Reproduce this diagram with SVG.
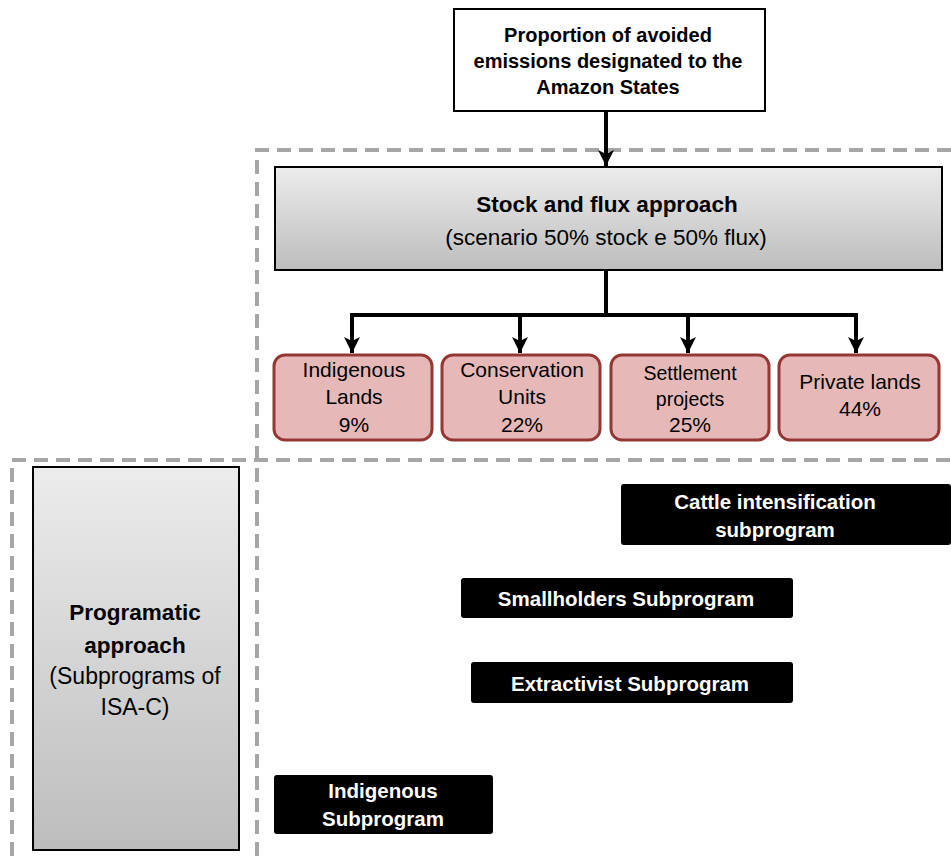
<svg xmlns="http://www.w3.org/2000/svg" width="951" height="856" viewBox="0 0 951 856">
  <defs>
    <linearGradient id="greyFill" x1="0" y1="0" x2="0" y2="1">
      <stop offset="0" stop-color="#ececec"/>
      <stop offset="1" stop-color="#bdbdbd"/>
    </linearGradient>
    <marker id="head" markerUnits="userSpaceOnUse" markerWidth="18" markerHeight="18" refX="16" refY="9" orient="auto" viewBox="0 0 18 18">
      <path d="M0,1 L16,9 L0,17 L4,9 Z" fill="#000"/>
    </marker>
  </defs>
  <style>
    text { font-family: "Liberation Sans", "Noto Sans", Arial, sans-serif; text-anchor: middle; dominant-baseline: central; }
    .b { font-weight: bold; }
    .frame { fill: none; stroke: #a6a6a6; stroke-width: 4; stroke-dasharray: 14 8; }
    .grey { fill: url(#greyFill); stroke: #000; stroke-width: 2; }
    .pink { fill: #e6b9b8; stroke: #953735; stroke-width: 3; }
    .dark { fill: #000; }
    .wt { fill: #fff; font-weight: bold; font-size: 20.5px; }
    .pt { font-size: 21px; }
    .link { fill: none; stroke: #000; stroke-width: 4; }
  </style>

  <rect width="951" height="856" fill="#fff"/>

  <!-- dashed frames -->
  <g id="frames">
    <path class="frame" d="M257,856 V150 H951"/>
    <path class="frame" d="M12,856 V460 H951"/>
  </g>

  <!-- connectors -->
  <g id="connectors">
    <path class="link" d="M606,111 V166" marker-end="url(#head)"/>
    <path class="link" d="M606,270 V315 M352,315 H856"/>
    <path class="link" d="M352,313 V353" marker-end="url(#head)"/>
    <path class="link" d="M520,313 V353" marker-end="url(#head)"/>
    <path class="link" d="M688,313 V353" marker-end="url(#head)"/>
    <path class="link" d="M856,313 V353" marker-end="url(#head)"/>
  </g>

  <g id="proportion">
    <rect x="454" y="9" width="311" height="102" fill="#fff" stroke="#000" stroke-width="2"/>
    <text class="b" x="608" y="35" font-size="20">Proportion of avoided</text>
    <text class="b" x="608" y="61" font-size="20">emissions designated to the</text>
    <text class="b" x="608" y="87" font-size="20">Amazon States</text>
  </g>

  <g id="stockflux">
    <rect class="grey" x="275" y="167" width="667" height="103"/>
    <text class="b" x="607" y="204" font-size="22.5">Stock and flux approach</text>
    <text x="606" y="237" font-size="22.5">(scenario 50% stock e 50% flux)</text>
  </g>

  <g id="indigenous-lands">
    <rect class="pink" x="274" y="355" width="158" height="85" rx="11"/>
    <text class="pt" x="354" y="369">Indigenous</text>
    <text class="pt" x="354" y="396">Lands</text>
    <text class="pt" x="354" y="424">9%</text>
  </g>

  <g id="conservation-units">
    <rect class="pink" x="442" y="355" width="158" height="85" rx="11"/>
    <text class="pt" x="522" y="369">Conservation</text>
    <text class="pt" x="522" y="396">Units</text>
    <text class="pt" x="522" y="424">22%</text>
  </g>

  <g id="settlement-projects">
    <rect class="pink" x="611" y="355" width="158" height="85" rx="11"/>
    <text x="690" y="373" font-size="19.5">Settlement</text>
    <text x="690" y="399" font-size="19.5">projects</text>
    <text class="pt" x="690" y="424">25%</text>
  </g>

  <g id="private-lands">
    <rect class="pink" x="779" y="355" width="160" height="85" rx="11"/>
    <text class="pt" x="860" y="381">Private lands</text>
    <text class="pt" x="860" y="408">44%</text>
  </g>

  <g id="programatic">
    <rect class="grey" x="33" y="467" width="206" height="383"/>
    <text class="b" x="135" y="612" font-size="22.5">Programatic</text>
    <text class="b" x="135" y="645" font-size="22.5">approach</text>
    <text x="135" y="676" font-size="23">(Subprograms of</text>
    <text x="135" y="707" font-size="23">ISA-C)</text>
  </g>

  <g id="cattle">
    <rect class="dark" x="621" y="484" width="330" height="61" rx="3"/>
    <text class="wt" x="775" y="501">Cattle intensification</text>
    <text class="wt" x="775" y="529">subprogram</text>
  </g>

  <g id="smallholders">
    <rect class="dark" x="461" y="578" width="332" height="40" rx="3"/>
    <text class="wt" x="626" y="598">Smallholders Subprogram</text>
  </g>

  <g id="extractivist">
    <rect class="dark" x="471" y="662" width="322" height="41" rx="3"/>
    <text class="wt" x="630" y="683">Extractivist Subprogram</text>
  </g>

  <g id="indigenous-sub">
    <rect class="dark" x="274" y="775" width="219" height="59" rx="3"/>
    <text class="wt" x="383" y="790">Indigenous</text>
    <text class="wt" x="383" y="818">Subprogram</text>
  </g>
</svg>
